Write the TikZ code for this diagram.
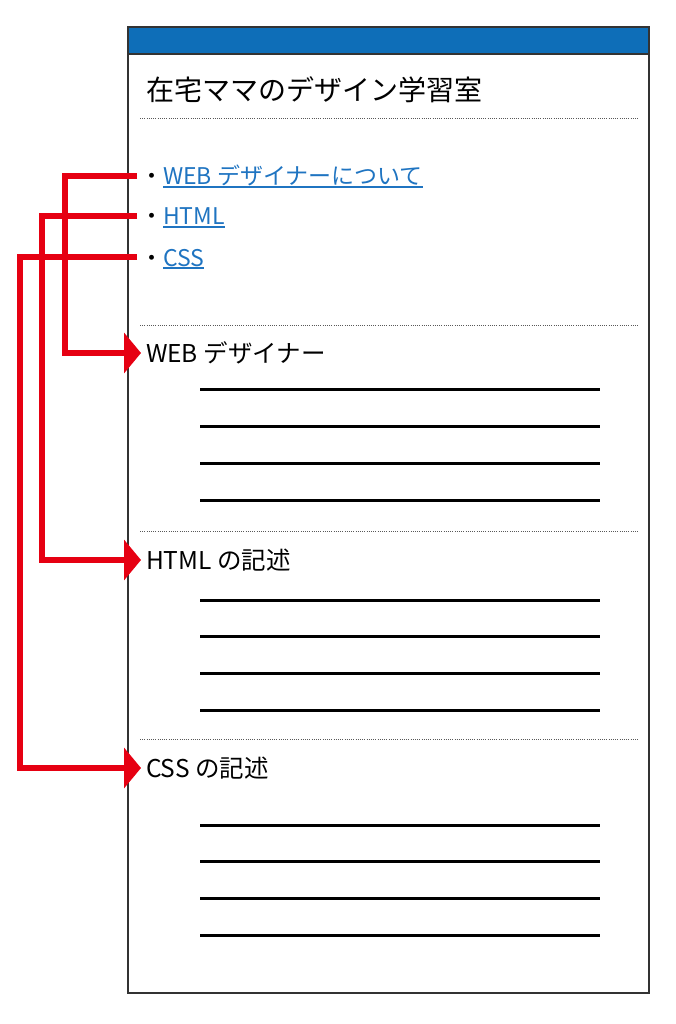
\documentclass[tikz,border=0pt]{standalone}
\usepackage{fontspec}
\setmainfont{Noto Sans CJK JP}
\usetikzlibrary{arrows.meta,positioning}
\definecolor{barblue}{HTML}{0E6EB8}
\definecolor{linkblue}{HTML}{1F74C1}
\definecolor{jumpred}{HTML}{E60012}
\tikzstyle{frame} = [draw=black!80,line width=1.2pt]
\tikzstyle{title} = [anchor=base west,inner sep=0,font=\fontsize{28}{34}\selectfont]
\tikzstyle{dot} = [anchor=base west,inner sep=0,outer sep=3pt,text height=18pt,text depth=0pt,font=\fontsize{23}{28}\selectfont]
\tikzstyle{link} = [inner sep=0,outer sep=0,text=linkblue,text height=18pt,text depth=2pt,font=\fontsize{23}{28}\selectfont]
\tikzstyle{uline} = [draw=linkblue,line width=1.3pt]
\tikzstyle{heading} = [anchor=base west,inner sep=0,outer sep=5pt,text height=18pt,text depth=0pt,font=\fontsize{24.5}{29}\selectfont]
\tikzstyle{sep} = [draw=black!65,line width=0.9pt,dash pattern=on 1pt off 1.2pt]
\tikzstyle{rule} = [draw,line width=3pt]
\tikzstyle{jump} = [draw=jumpred,line width=6pt,-{Triangle[length=17pt,width=40pt]}]
\def \sl {140}
\def \sr {638}

\begin{document}
\begin{tikzpicture}[x=1pt,y=-1pt]
  \useasboundingbox (0,0) rectangle (675,1024);
  % page
  \fill[barblue] (128,27) rectangle (649,54);
  \draw[frame] (128,27) rectangle (649,993);
  \draw[frame] (128,54) -- (649,54);
  \node[title] (tt) at (146,101) {在宅ママのデザイン学習室};
  \draw[sep] (\sl,118) -- (\sr,118);
  % menu
  \node[dot] (bw) at (137,185) {・};
  \node[link,base right=-3pt of bw] (lw) {WEB デザイナーについて};
  \node[dot] (bh) at (137,225) {・};
  \node[link,base right=-3pt of bh] (lh) {HTML};
  \node[dot] (bc) at (137,266) {・};
  \node[link,base right=-3pt of bc] (lc) {CSS};
  \draw[uline] (lw.south west) -- (lw.south east);
  \draw[uline] (lh.south west) -- (lh.south east);
  \draw[uline] (lc.south west) -- (lc.south east);
  \draw[sep] (\sl,325) -- (\sr,325);
  % sections
  \node[heading] (hw) at (141,362) {WEB デザイナー};
  \draw[rule] (200,389) -- (600,389);
  \draw[rule] (200,426) -- (600,426);
  \draw[rule] (200,463) -- (600,463);
  \draw[rule] (200,500) -- (600,500);
  \draw[sep] (\sl,531) -- (\sr,531);
  \node[heading] (hh) at (141,569) {HTML の記述};
  \draw[rule] (200,600) -- (600,600);
  \draw[rule] (200,636) -- (600,636);
  \draw[rule] (200,673) -- (600,673);
  \draw[rule] (200,710) -- (600,710);
  \draw[sep] (\sl,739) -- (\sr,739);
  \node[heading] (hc) at (141,777) {CSS の記述};
  \draw[rule] (200,825) -- (600,825);
  \draw[rule] (200,861) -- (600,861);
  \draw[rule] (200,898) -- (600,898);
  \draw[rule] (200,935) -- (600,935);
  % jumps
  \draw[jump] (bw.west) -- ++(-72,0) |- (hw.west);
  \draw[jump] (bh.west) -- ++(-95,0) |- (hh.west);
  \draw[jump] (bc.west) -- ++(-117,0) |- (hc.west);
\end{tikzpicture}
\end{document}
